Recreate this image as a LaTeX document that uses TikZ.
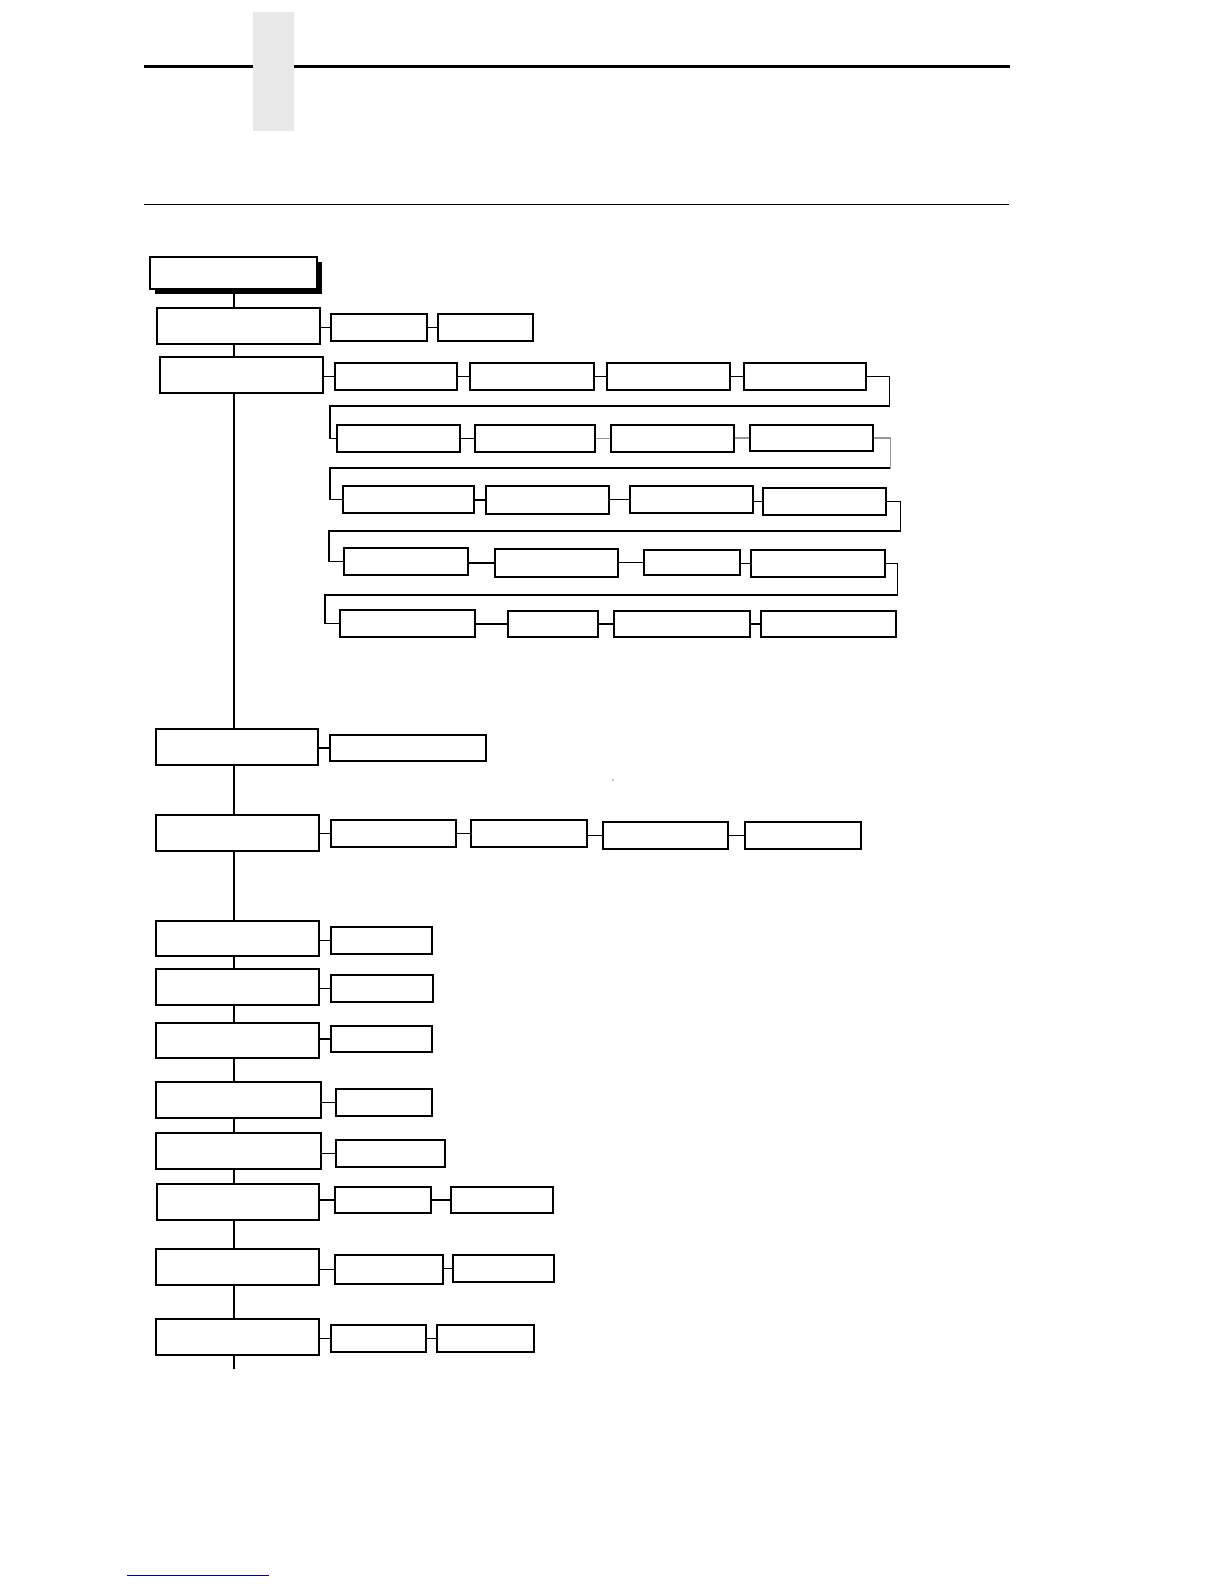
\documentclass[tikz,border=0pt]{standalone}
\usepackage{tikz}
\usetikzlibrary{shadows}
\definecolor{tabgray}{RGB}{232,232,232}
\definecolor{fadegray}{RGB}{150,150,150}
\definecolor{footblue}{RGB}{0,0,170}
\tikzset{
  menubox/.style={draw, fill=white, rectangle, inner sep=0pt, line width=1.2pt},
  link/.style={line width=1.2pt}
}

\begin{document}
\begin{tikzpicture}[x=1pt,y=-1pt]
\useasboundingbox (0,0) rectangle (1224,1584);
% page header
\draw[line width=2.2pt] (144,66.5) -- (1010,66.5);
\fill[tabgray] (253,12) rectangle (294,131);
\draw[line width=1pt] (144,204.5) -- (1009,204.5);
\draw[footblue,line width=1pt] (127,1575) -- (269,1575);
\fill (613,780) circle (0.6);
% main column
\node[menubox, minimum width=167pt, minimum height=32pt,
  drop shadow={shadow xshift=5pt,shadow yshift=-5pt,fill=black,opacity=1}] (top) at (233.5,273) {};
\node[menubox, minimum width=163pt, minimum height=36pt] (m2) at (238.5,326) {};
\node[menubox, minimum width=163pt, minimum height=36pt] (m3) at (241.5,375) {};
\node[menubox, minimum width=162pt, minimum height=36pt] (m4) at (237,747) {};
\node[menubox, minimum width=163pt, minimum height=36pt] (m5) at (237.5,833) {};
\node[menubox, minimum width=163pt, minimum height=35pt] (m6) at (237.5,938.5) {};
\node[menubox, minimum width=163pt, minimum height=36pt] (m7) at (237.5,987) {};
\node[menubox, minimum width=163pt, minimum height=35pt] (m8) at (237.5,1040.5) {};
\node[menubox, minimum width=165pt, minimum height=36pt] (m9) at (238.5,1100) {};
\node[menubox, minimum width=165pt, minimum height=36pt] (m10) at (238.5,1151) {};
\node[menubox, minimum width=162pt, minimum height=36pt] (m11) at (238,1202) {};
\node[menubox, minimum width=163pt, minimum height=36pt] (m12) at (237.5,1267) {};
\node[menubox, minimum width=163pt, minimum height=36pt] (m13) at (237.5,1337) {};
\coordinate (spine) at (234,0);
\coordinate (spineend) at (234,1369);
\foreach \a/\b in {top/m2,m2/m3,m3/m4,m4/m5,m5/m6,m6/m7,m7/m8,m8/m9,m9/m10,m10/m11,m11/m12,m12/m13}
  \draw[link] (\a.south -| spine) -- (\b.north -| spine);
\draw[link] (m13.south -| spine) -- (spineend);
% second row
\node[menubox, minimum width=96pt, minimum height=27pt] (m2a) at (379,327.5) {};
\node[menubox, minimum width=95pt, minimum height=27pt] (m2b) at (485.5,327.5) {};
\draw[link] (m2.east |- m2a.west) -- (m2a.west);
\draw[link] (m2a.east |- m2b.west) -- (m2b.west);
% long list, five lines
\node[menubox, minimum width=122pt, minimum height=27pt] (a1) at (396,376.5) {};
\node[menubox, minimum width=124pt, minimum height=27pt] (a2) at (532,376.5) {};
\node[menubox, minimum width=123pt, minimum height=27pt] (a3) at (668.5,376.5) {};
\node[menubox, minimum width=122pt, minimum height=27pt] (a4) at (805,376.5) {};
\node[menubox, minimum width=123pt, minimum height=27pt] (b1) at (398.5,438.5) {};
\node[menubox, minimum width=120pt, minimum height=27pt] (b2) at (535,438.5) {};
\node[menubox, minimum width=123pt, minimum height=27pt] (b3) at (672.5,438.5) {};
\node[menubox, minimum width=123pt, minimum height=26pt] (b4) at (811.5,438) {};
\node[menubox, minimum width=131pt, minimum height=27pt] (c1) at (408.5,499.5) {};
\node[menubox, minimum width=123pt, minimum height=28pt] (c2) at (547.5,500) {};
\node[menubox, minimum width=123pt, minimum height=27pt] (c3) at (691.5,499.5) {};
\node[menubox, minimum width=123pt, minimum height=27pt] (c4) at (824.5,501.5) {};
\node[menubox, minimum width=124pt, minimum height=27pt] (d1) at (406,561.5) {};
\node[menubox, minimum width=123pt, minimum height=28pt] (d2) at (556.5,563) {};
\node[menubox, minimum width=96pt, minimum height=25pt] (d3) at (692,562.5) {};
\node[menubox, minimum width=134pt, minimum height=27pt] (d4) at (818,563.5) {};
\node[menubox, minimum width=135pt, minimum height=27pt] (e1) at (407.5,623.5) {};
\node[menubox, minimum width=90pt, minimum height=26pt] (e2) at (553,624) {};
\node[menubox, minimum width=136pt, minimum height=26pt] (e3) at (682,624) {};
\node[menubox, minimum width=135pt, minimum height=26pt] (e4) at (828.5,624) {};
\draw[link] (m3.east |- a1.west) -- (a1.west);
\draw[link] (a1.east |- a2.west) -- (a2.west);
\draw[link] (a2.east |- a3.west) -- (a3.west);
\draw[link] (a3.east |- a4.west) -- (a4.west);
\draw[link] (a4.east) -- ++(23,0) |- (330,406) |- (b1.west);
\draw[link] (b1.east |- b2.west) -- (b2.west);
\draw[link,fadegray] (b2.east |- b3.west) -- (b3.west);
\draw[link,fadegray] (b3.east |- b4.west) -- (b4.west);
\draw[link,fadegray] (b4.east) -- ++(17,0) -- ++(0,31);
\draw[link] (890,468) -- (330,468) |- (c1.west);
\draw[link] (c1.east |- c2.west) -- (c2.west);
\draw[link] (c2.east |- c3.west) -- (c3.west);
\draw[link] (c3.east |- c4.west) -- (c4.west);
\draw[link] (c4.east) -- ++(14,0) |- (329,531) |- (d1.west);
\draw[link] (d1.east |- d2.west) -- (d2.west);
\draw[link] (d2.east |- d3.west) -- (d3.west);
\draw[link] (d3.east |- d4.west) -- (d4.west);
\draw[link] (d4.east) -- ++(12,0) |- (325,595) |- (e1.west);
\draw[link] (e1.east |- e2.west) -- (e2.west);
\draw[link] (e2.east |- e3.west) -- (e3.west);
\draw[link] (e3.east |- e4.west) -- (e4.west);
% fourth and fifth rows
\node[menubox, minimum width=156pt, minimum height=26pt] (m4a) at (408,748) {};
\draw[link] (m4.east |- m4a.west) -- (m4a.west);
\node[menubox, minimum width=125pt, minimum height=27pt] (m5a) at (393.5,833.5) {};
\node[menubox, minimum width=116pt, minimum height=27pt] (m5b) at (529,833.5) {};
\node[menubox, minimum width=125pt, minimum height=27pt] (m5c) at (665.5,835.5) {};
\node[menubox, minimum width=116pt, minimum height=27pt] (m5d) at (803,835.5) {};
\draw[link] (m5.east |- m5a.west) -- (m5a.west);
\draw[link] (m5a.east |- m5b.west) -- (m5b.west);
\draw[link] (m5b.east |- m5c.west) -- (m5c.west);
\draw[link] (m5c.east |- m5d.west) -- (m5d.west);
% single options
\node[menubox, minimum width=101pt, minimum height=27pt] (m6a) at (381.5,940.5) {};
\node[menubox, minimum width=102pt, minimum height=27pt] (m7a) at (382,988.5) {};
\node[menubox, minimum width=101pt, minimum height=26pt] (m8a) at (381.5,1039) {};
\node[menubox, minimum width=96pt, minimum height=27pt] (m9a) at (384,1102.5) {};
\node[menubox, minimum width=109pt, minimum height=27pt] (m10a) at (390.5,1153.5) {};
\draw[link] (m6.east |- m6a.west) -- (m6a.west);
\draw[link] (m7.east |- m7a.west) -- (m7a.west);
\draw[link] (m8.east |- m8a.west) -- (m8a.west);
\draw[link] (m9.east |- m9a.west) -- (m9a.west);
\draw[link] (m10.east |- m10a.west) -- (m10a.west);
% pairs of options
\node[menubox, minimum width=96pt, minimum height=26pt] (m11a) at (383,1200) {};
\node[menubox, minimum width=102pt, minimum height=26pt] (m11b) at (502,1200) {};
\node[menubox, minimum width=108pt, minimum height=29pt] (m12a) at (389,1269.5) {};
\node[menubox, minimum width=101pt, minimum height=27pt] (m12b) at (503.5,1268.5) {};
\node[menubox, minimum width=95pt, minimum height=27pt] (m13a) at (378.5,1338.5) {};
\node[menubox, minimum width=97pt, minimum height=27pt] (m13b) at (485.5,1338.5) {};
\draw[link] (m11.east |- m11a.west) -- (m11a.west);
\draw[link] (m11a.east |- m11b.west) -- (m11b.west);
\draw[link] (m12.east |- m12a.west) -- (m12a.west);
\draw[link] (m12a.east |- m12b.west) -- (m12b.west);
\draw[link] (m13.east |- m13a.west) -- (m13a.west);
\draw[link] (m13a.east |- m13b.west) -- (m13b.west);
\end{tikzpicture}
\end{document}
